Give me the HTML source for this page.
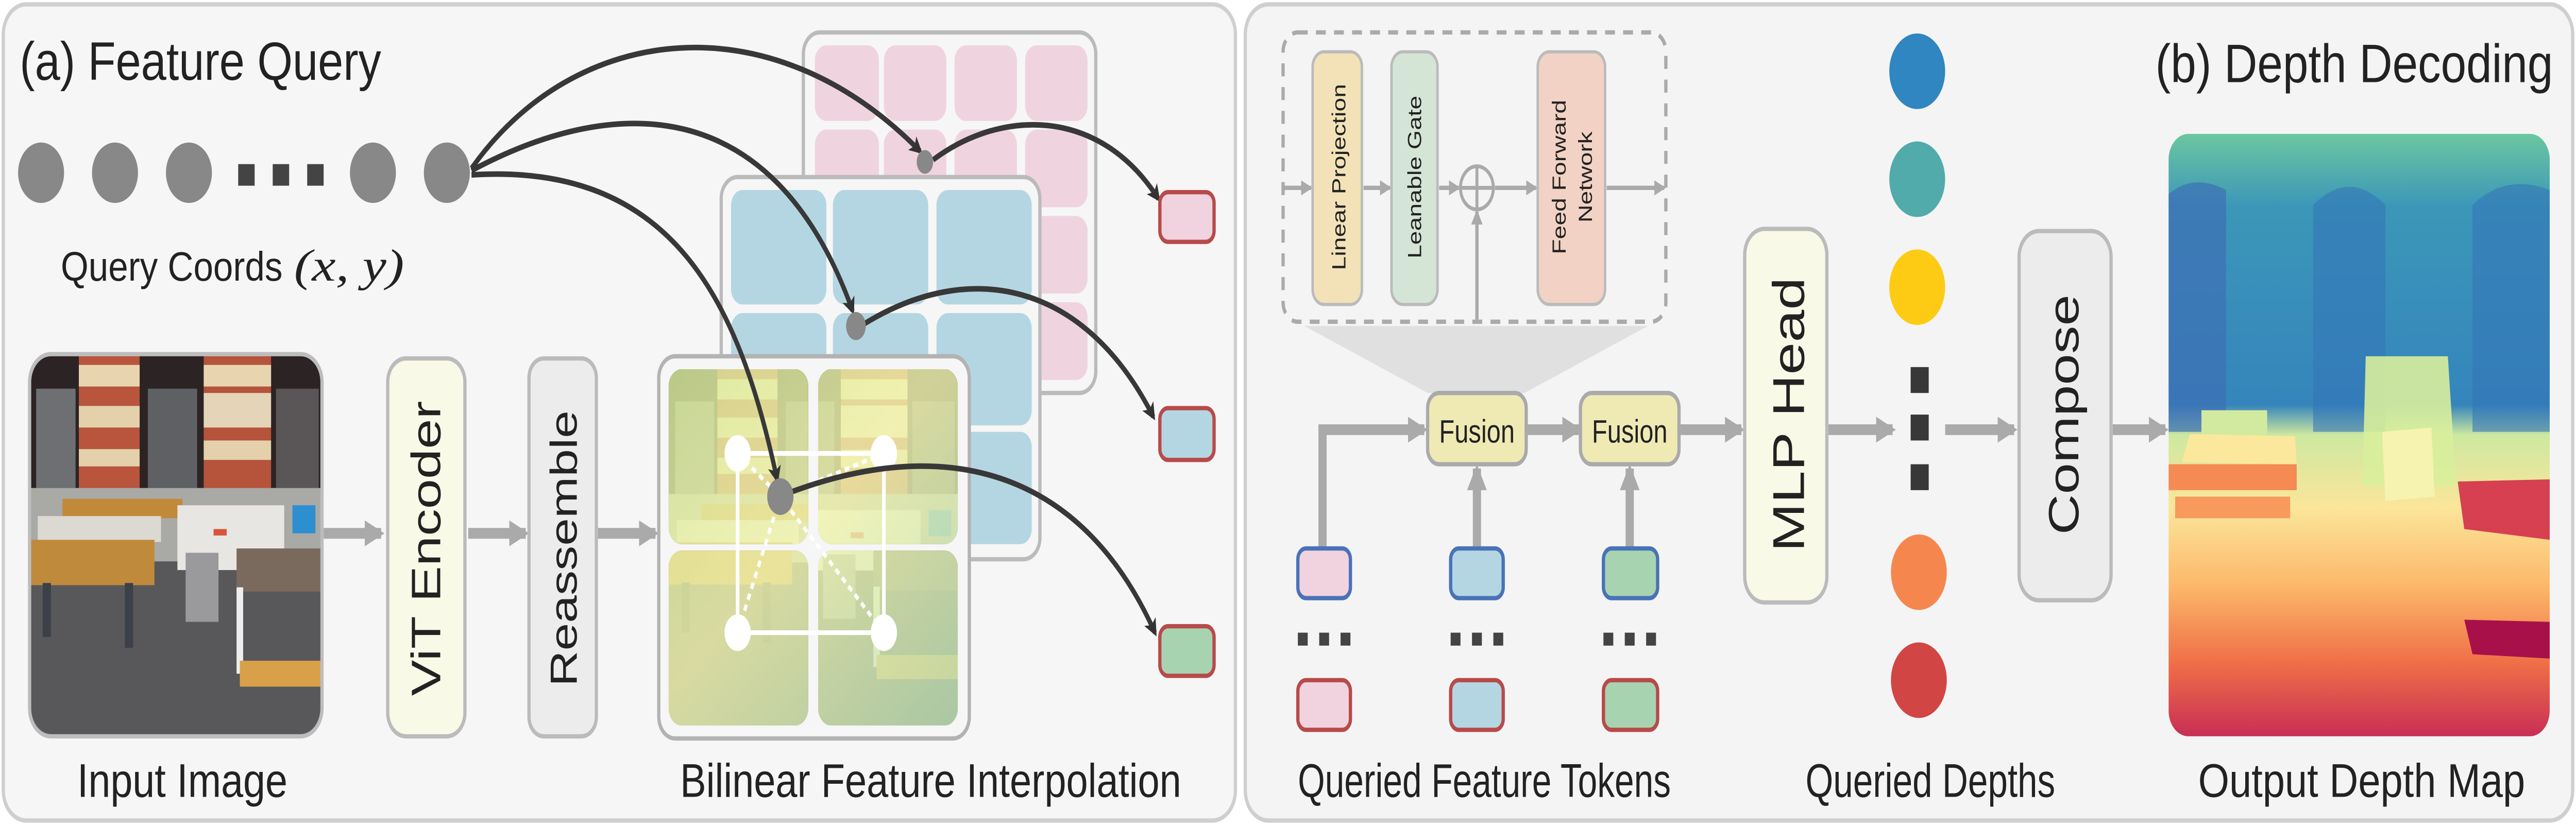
<!DOCTYPE html>
<html><head><meta charset="utf-8">
<style>html,body{margin:0;padding:0;background:#fff;width:100%;height:100%;overflow:hidden}svg{display:block;position:fixed;left:0;top:0;width:100vw;height:100vh}</style></head>
<body>
<svg viewBox="0 0 1568 383" preserveAspectRatio="none" xmlns="http://www.w3.org/2000/svg" font-family="Liberation Sans, sans-serif">
<defs>
<marker id="ah" markerWidth="8" markerHeight="8" refX="6" refY="4" orient="auto" markerUnits="userSpaceOnUse"><path d="M0,0 L8,4 L0,8 L2,4 z" fill="#333"/></marker>
<marker id="ga" markerWidth="12" markerHeight="12" refX="10" refY="6" orient="auto" markerUnits="userSpaceOnUse"><path d="M0,0 L12,6 L0,12 z" fill="#aaa"/></marker>
<marker id="sa" markerWidth="7" markerHeight="7" refX="6" refY="3.5" orient="auto" markerUnits="userSpaceOnUse"><path d="M0,0 L7,3.5 L0,7 z" fill="#aaa"/></marker>
<clipPath id="imgclip"><rect x="0" y="0" width="178" height="177" rx="13"/></clipPath>
<g id="photo">
<rect x="0" y="0" width="178" height="177" fill="#58585a"/>
<rect x="0" y="0" width="178" height="66" fill="#2c2424"/>
<rect x="4" y="16" width="24" height="46" fill="#6d6f72"/>
<rect x="72" y="16" width="30" height="46" fill="#5e6064"/>
<rect x="150" y="16" width="26" height="46" fill="#5a5658"/>
<rect x="30" y="0" width="37" height="66" fill="#b8553c"/>
<rect x="30" y="5" width="37" height="10" fill="#e8d5b0"/>
<rect x="30" y="24" width="37" height="10" fill="#e4d0aa"/>
<rect x="30" y="44" width="37" height="8" fill="#e4d0aa"/>
<rect x="106" y="0" width="41" height="66" fill="#b5533b"/>
<rect x="106" y="5" width="41" height="10" fill="#e8d5b0"/>
<rect x="106" y="18" width="41" height="16" fill="#e4d4b8"/>
<rect x="106" y="40" width="41" height="9" fill="#e4d0aa"/>
<rect x="0" y="62" width="178" height="34" fill="#a9a9a6"/>
<rect x="20" y="67" width="73" height="9" fill="#c18a3a"/>
<rect x="5" y="75" width="75" height="12" fill="#dcd9d2"/>
<rect x="0" y="86" width="76" height="21" fill="#c08a3c"/>
<rect x="90" y="70" width="65" height="30" fill="#e8e6e2"/>
<rect x="112" y="81" width="8" height="3" fill="#d9553c"/>
<rect x="160" y="70" width="14" height="13" fill="#2e8fd0"/>
<rect x="95" y="92" width="20" height="32" fill="#9a9a9c"/>
<rect x="126" y="90" width="52" height="20" fill="#7a6a5e"/>
<rect x="126" y="108" width="4" height="40" fill="#eee"/>
<rect x="128" y="142" width="50" height="12" fill="#d9a04a"/>
<rect x="8" y="106" width="5" height="25" fill="#3c4048"/>
<rect x="58" y="106" width="5" height="30" fill="#3c4048"/>
</g>
<linearGradient id="tint" x1="0" y1="0" x2="1" y2="1"><stop offset="0" stop-color="#d8ed9c"/><stop offset="0.45" stop-color="#f4f7b0"/><stop offset="1" stop-color="#b4dcb4"/></linearGradient>
<clipPath id="c1"><rect x="407" y="171" width="85" height="81" rx="8"/></clipPath>
<clipPath id="c2"><rect x="498" y="171" width="85" height="81" rx="8"/></clipPath>
<clipPath id="c3"><rect x="407" y="255" width="85" height="81" rx="8"/></clipPath>
<clipPath id="c4"><rect x="498" y="255" width="85" height="81" rx="8"/></clipPath>
<linearGradient id="depth" x1="0" y1="0" x2="0" y2="1">
<stop offset="0" stop-color="#6cc7a0"/><stop offset="0.12" stop-color="#3b97b8"/><stop offset="0.45" stop-color="#3585bc"/><stop offset="0.5" stop-color="#cde8a0"/><stop offset="0.62" stop-color="#fbe69a"/><stop offset="0.75" stop-color="#fcb86a"/><stop offset="0.88" stop-color="#ef6e47"/><stop offset="1" stop-color="#c82e55"/></linearGradient>
<clipPath id="dclip"><rect x="1320" y="62" width="232" height="279" rx="12"/></clipPath>
</defs>
<rect x="2" y="2" width="750" height="378" rx="14" fill="#f6f6f6" stroke="#cfcfcf" stroke-width="2"/>
<rect x="758" y="2" width="808" height="378" rx="14" fill="#f4f4f4" stroke="#cfcfcf" stroke-width="2"/>

<text x="12" y="37" font-size="25" fill="#222" textLength="220" lengthAdjust="spacingAndGlyphs">(a) Feature Query</text>
<text x="1312" y="38" font-size="25" fill="#222" textLength="242" lengthAdjust="spacingAndGlyphs">(b) Depth Decoding</text>

<g fill="#888"><ellipse cx="25" cy="80" rx="14" ry="14"/><ellipse cx="70" cy="80" rx="14" ry="14"/><ellipse cx="115" cy="80" rx="14" ry="14"/><ellipse cx="227" cy="80" rx="14" ry="14"/><ellipse cx="272" cy="80" rx="14" ry="14"/></g>
<g fill="#444"><rect x="145" y="76" width="10" height="10"/><rect x="166" y="76" width="10" height="10"/><rect x="187" y="76" width="10" height="10"/></g>
<text x="37" y="130" font-size="19" fill="#222" textLength="135" lengthAdjust="spacingAndGlyphs">Query Coords</text>
<text x="179" y="130" font-size="21" fill="#222" font-family="Liberation Serif, serif" font-style="italic" textLength="67" lengthAdjust="spacingAndGlyphs">(x, y)</text>

<g transform="translate(18,164)"><g clip-path="url(#imgclip)"><use href="#photo"/></g><rect x="0" y="0" width="178" height="177" rx="13" fill="none" stroke="#bdbdbd" stroke-width="2"/></g>
<text x="111" y="369" font-size="22" fill="#222" text-anchor="middle" textLength="128" lengthAdjust="spacingAndGlyphs">Input Image</text>

<g stroke="#aaa" stroke-width="5" fill="none" marker-end="url(#ga)">
<line x1="197" y1="247" x2="232" y2="247"/><line x1="285" y1="247" x2="320" y2="247"/><line x1="364" y1="247" x2="399" y2="247"/></g>

<rect x="236" y="166" width="47" height="175" rx="11" fill="#f8f9e6" stroke="#bbb" stroke-width="2"/>
<text transform="translate(268,254) rotate(-90)" font-size="25" fill="#222" text-anchor="middle">ViT  Encoder</text>
<rect x="322" y="166" width="41" height="175" rx="9" fill="#ececec" stroke="#bbb" stroke-width="2"/>
<text transform="translate(351,254) rotate(-90)" font-size="23" fill="#222" text-anchor="middle">Reassemble</text>

<rect x="489" y="15" width="178" height="167" rx="10" fill="#f6f6f6" stroke="#bbb" stroke-width="2"/>
<g fill="#efd4df">
<rect x="496" y="21" width="39" height="35" rx="7"/><rect x="538" y="21" width="38" height="35" rx="7"/><rect x="581" y="21" width="38" height="35" rx="7"/><rect x="624" y="21" width="38" height="35" rx="7"/>
<rect x="496" y="60" width="39" height="36" rx="7"/><rect x="538" y="60" width="38" height="36" rx="7"/><rect x="581" y="60" width="38" height="36" rx="7"/><rect x="624" y="60" width="38" height="36" rx="7"/>
<rect x="624" y="100" width="38" height="36" rx="7"/><rect x="624" y="140" width="38" height="36" rx="7"/></g>
<rect x="439" y="82" width="194" height="177" rx="10" fill="#f6f6f6" stroke="#bbb" stroke-width="2"/>
<g fill="#b4d6e2">
<rect x="445" y="88" width="58" height="53" rx="7"/><rect x="507" y="88" width="58" height="53" rx="7"/><rect x="570" y="88" width="58" height="53" rx="7"/>
<rect x="445" y="145" width="58" height="52" rx="7"/><rect x="507" y="145" width="58" height="52" rx="7"/><rect x="570" y="145" width="58" height="52" rx="7"/>
<rect x="570" y="200" width="58" height="52" rx="7"/></g>
<rect x="401" y="165" width="189" height="177" rx="10" fill="#f6f6f6" stroke="#b3b3b3" stroke-width="2"/>
<g clip-path="url(#c1)"><g transform="translate(407,171) scale(0.989,0.932)"><use href="#photo"/></g><rect x="400" y="165" width="200" height="180" fill="url(#tint)" opacity="0.82"/></g>
<g clip-path="url(#c2)"><g transform="translate(407,171) scale(0.989,0.932)"><use href="#photo"/></g><rect x="400" y="165" width="200" height="180" fill="url(#tint)" opacity="0.82"/></g>
<g clip-path="url(#c3)"><g transform="translate(407,171) scale(0.989,0.932)"><use href="#photo"/></g><rect x="400" y="165" width="200" height="180" fill="url(#tint)" opacity="0.82"/></g>
<g clip-path="url(#c4)"><g transform="translate(407,171) scale(0.989,0.932)"><use href="#photo"/></g><rect x="400" y="165" width="200" height="180" fill="url(#tint)" opacity="0.82"/></g>
<g stroke="#fff" stroke-width="2.2" fill="none"><rect x="449" y="210" width="89" height="83"/></g>
<g stroke="#fff" stroke-width="2" stroke-dasharray="3,2.5" fill="none">
<line x1="449" y1="210" x2="475" y2="230"/><line x1="538" y1="210" x2="475" y2="230"/><line x1="449" y1="293" x2="475" y2="230"/><line x1="538" y1="293" x2="475" y2="230"/></g>
<g fill="#fff"><ellipse cx="449" cy="210" rx="8" ry="8.5"/><ellipse cx="538" cy="210" rx="8" ry="8.5"/><ellipse cx="449" cy="293" rx="8" ry="8.5"/><ellipse cx="538" cy="293" rx="8" ry="8.5"/></g>
<text x="414" y="369" font-size="22" fill="#222" textLength="305" lengthAdjust="spacingAndGlyphs">Bilinear  Feature Interpolation</text>

<g stroke="#383838" stroke-width="2.6" fill="none" marker-end="url(#ah)">
<path d="M287,78 C350,10 470,0 560,70"/>
<path d="M287,79 C370,45 470,40 519,144"/>
<path d="M287,81 C410,75 450,140 473,222"/>
<path d="M568,74 C610,50 670,50 705,92"/>
<path d="M526,150 C590,120 660,130 702,193"/>
<path d="M481,228 C580,200 660,220 703,293"/>
</g>
<g fill="#888"><ellipse cx="563" cy="75" rx="5" ry="5.5"/><ellipse cx="521" cy="151" rx="6" ry="6.5"/><ellipse cx="475" cy="230" rx="8" ry="8.5"/></g>
<g stroke="#b84a4a" stroke-width="2">
<rect x="706" y="89" width="33" height="23" rx="5" fill="#f0d3df"/>
<rect x="706" y="189" width="33" height="24" rx="5" fill="#b4d6e2"/>
<rect x="706" y="290" width="33" height="23" rx="5" fill="#a7d3b0"/></g>

<polygon points="794,151 1003,151 928,182 869,182" fill="#e1e0e0"/>
<rect x="781" y="15" width="233" height="134" rx="9" fill="#f4f4f4" stroke="#aaa" stroke-width="2" stroke-dasharray="6,5"/>
<g stroke="#aaa" stroke-width="2" fill="none" marker-end="url(#sa)">
<line x1="781" y1="87" x2="798" y2="87"/><line x1="830" y1="87" x2="846" y2="87"/><line x1="876" y1="87" x2="888" y2="87"/><line x1="910" y1="87" x2="935" y2="87"/><line x1="978" y1="87" x2="1013" y2="87"/><line x1="899" y1="148" x2="899" y2="98"/></g>
<ellipse cx="899" cy="87" rx="10" ry="10" fill="none" stroke="#aaa" stroke-width="1.8"/>
<line x1="889" y1="87" x2="909" y2="87" stroke="#aaa" stroke-width="1.8"/><line x1="899" y1="77" x2="899" y2="97" stroke="#aaa" stroke-width="1.8"/>
<rect x="799" y="24" width="30" height="117" rx="7" fill="#f3e2b8" stroke="#bbb" stroke-width="1.5"/>
<rect x="847" y="24" width="28" height="117" rx="7" fill="#d5e5d5" stroke="#bbb" stroke-width="1.5"/>
<rect x="936" y="24" width="41" height="117" rx="7" fill="#f2d2c4" stroke="#bbb" stroke-width="1.5"/>
<text transform="translate(819,82) rotate(-90)" font-size="11.5" fill="#222" text-anchor="middle">Linear Projection</text>
<text transform="translate(865,82) rotate(-90)" font-size="11.5" fill="#222" text-anchor="middle">Leanable Gate</text>
<text transform="translate(953,82) rotate(-90)" font-size="11.5" fill="#222" text-anchor="middle">Feed Forward</text>
<text transform="translate(969,82) rotate(-90)" font-size="11.5" fill="#222" text-anchor="middle">Network</text>

<g stroke="#aaa" stroke-width="5" fill="none" marker-end="url(#ga)">
<polyline points="805,254 805,199 867,199"/>
<line x1="930" y1="199" x2="961" y2="199"/><line x1="1023" y1="199" x2="1060" y2="199"/>
<line x1="899" y1="254" x2="899" y2="217"/><line x1="992" y1="254" x2="992" y2="217"/>
<line x1="1113" y1="199" x2="1152" y2="199"/><line x1="1184" y1="199" x2="1226" y2="199"/><line x1="1286" y1="199" x2="1318" y2="199"/></g>
<rect x="869" y="182" width="60" height="33" rx="7" fill="#efeab4" stroke="#aaa" stroke-width="2"/>
<rect x="962" y="182" width="60" height="33" rx="7" fill="#efeab4" stroke="#aaa" stroke-width="2"/>
<text x="899" y="205" font-size="15" fill="#222" text-anchor="middle" textLength="46" lengthAdjust="spacingAndGlyphs">Fusion</text>
<text x="992" y="205" font-size="15" fill="#222" text-anchor="middle" textLength="46" lengthAdjust="spacingAndGlyphs">Fusion</text>

<g stroke="#4a72b8" stroke-width="2">
<rect x="790" y="254" width="32" height="23" rx="5" fill="#f0d3df"/><rect x="883" y="254" width="32" height="23" rx="5" fill="#b4d6e2"/><rect x="976" y="254" width="33" height="23" rx="5" fill="#a7d3b0"/></g>
<g stroke="#b84a4a" stroke-width="2">
<rect x="790" y="315" width="32" height="23" rx="5" fill="#f0d3df"/><rect x="883" y="315" width="32" height="23" rx="5" fill="#b4d6e2"/><rect x="976" y="315" width="33" height="23" rx="5" fill="#a7d3b0"/></g>
<g fill="#444">
<rect x="790" y="293" width="6" height="6"/><rect x="803" y="293" width="6" height="6"/><rect x="816" y="293" width="6" height="6"/>
<rect x="883" y="293" width="6" height="6"/><rect x="896" y="293" width="6" height="6"/><rect x="909" y="293" width="6" height="6"/>
<rect x="976" y="293" width="6" height="6"/><rect x="989" y="293" width="6" height="6"/><rect x="1002" y="293" width="6" height="6"/></g>
<text x="790" y="369" font-size="22" fill="#222" textLength="227" lengthAdjust="spacingAndGlyphs">Queried Feature Tokens</text>

<rect x="1062" y="106" width="50" height="173" rx="12" fill="#f8f9e6" stroke="#bbb" stroke-width="2"/>
<text transform="translate(1098,192) rotate(-90)" font-size="27" fill="#222" text-anchor="middle">MLP Head</text>

<ellipse cx="1167" cy="33" rx="17" ry="17.5" fill="#2f86c0"/>
<ellipse cx="1167" cy="83" rx="17" ry="17.5" fill="#50abaa"/>
<ellipse cx="1167" cy="133" rx="17" ry="17.5" fill="#fdcb14"/>
<ellipse cx="1168" cy="265" rx="17" ry="17.5" fill="#f5874e"/>
<ellipse cx="1168" cy="315" rx="17" ry="17.5" fill="#d24545"/>
<g fill="#383838"><rect x="1163" y="170" width="11" height="12"/><rect x="1163" y="192" width="11" height="12"/><rect x="1163" y="215" width="11" height="12"/></g>
<text x="1099" y="369" font-size="22" fill="#222" textLength="152" lengthAdjust="spacingAndGlyphs">Queried Depths</text>

<rect x="1229" y="107" width="56" height="171" rx="12" fill="#ececec" stroke="#bbb" stroke-width="2"/>
<text transform="translate(1265,192) rotate(-90)" font-size="26" fill="#222" text-anchor="middle">Compose</text>

<g clip-path="url(#dclip)">
<rect x="1320" y="62" width="232" height="279" fill="url(#depth)"/>
<path d="M1320,150 L1320,90 Q1335,80 1355,88 L1355,200 L1320,200 z" fill="#3d6fb5" opacity="0.7"/>
<path d="M1408,200 L1408,95 Q1430,78 1452,95 L1452,200 z" fill="#3477b8" opacity="0.6"/>
<path d="M1505,200 L1505,95 Q1525,80 1552,88 L1552,200 z" fill="#3477b8" opacity="0.6"/>
<rect x="1340" y="190" width="40" height="12" fill="#d2eaa0"/>
<polygon points="1440,165 1490,165 1495,225 1438,225" fill="#d8ee9c" opacity="0.9"/>
<polygon points="1333,201 1397,202 1398,215 1328,214" fill="#fbe89c"/>
<rect x="1320" y="215" width="78" height="12" fill="#f58a52"/>
<rect x="1324" y="230" width="70" height="10" fill="#f79a5c"/>
<polygon points="1450,200 1480,198 1482,230 1452,232" fill="#f6f3b0"/>
<polygon points="1496,223 1552,222 1552,250 1500,245" fill="#d64050"/>
<polygon points="1500,287 1552,288 1552,305 1505,303" fill="#a8104a"/>
</g>
<text x="1338" y="369" font-size="22" fill="#222" textLength="199" lengthAdjust="spacingAndGlyphs">Output Depth Map</text>
</svg>
</body></html>
